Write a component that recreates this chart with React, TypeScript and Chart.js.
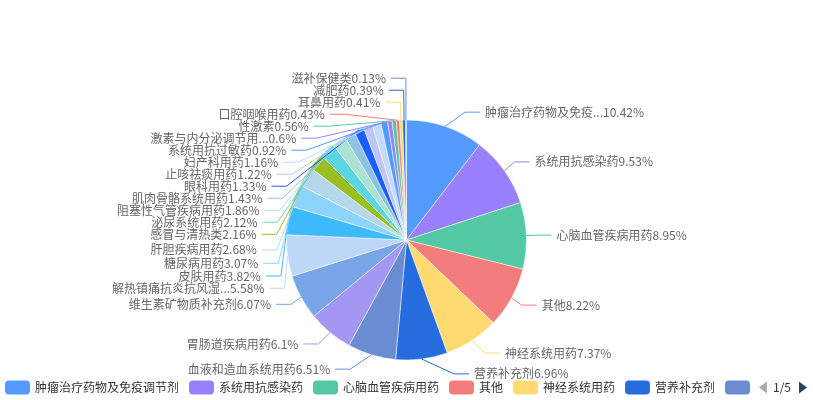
import React, { useEffect, useRef } from "react";
import { Chart, registerables } from "chart.js";

Chart.register(...registerables);

const categories: string[] = [
  "肿瘤治疗药物及免疫调节剂",
  "系统用抗感染药",
  "心脑血管疾病用药",
  "其他",
  "神经系统用药",
  "营养补充剂",
  "血液和造血系统用药",
  "胃肠道疾病用药",
  "维生素矿物质补充剂",
  "解热镇痛抗炎抗风湿药",
  "皮肤用药",
  "糖尿病用药",
  "肝胆疾病用药",
  "感冒与清热类",
  "泌尿系统用药",
  "阻塞性气管疾病用药",
  "肌肉骨骼系统用药",
  "眼科用药",
  "止咳祛痰用药",
  "妇产科用药",
  "系统用抗过敏药",
  "激素与内分泌调节用药",
  "性激素",
  "口腔咽喉用药",
  "耳鼻用药",
  "减肥药",
  "滋补保健类",
];

const shares: number[] = [
  10.42, 9.53, 8.95, 8.22, 7.37, 6.96, 6.51, 6.1, 6.07, 5.58, 3.82, 3.07, 2.68,
  2.16, 2.12, 1.86, 1.43, 1.33, 1.22, 1.16, 0.92, 0.6, 0.56, 0.43, 0.41, 0.39,
  0.13,
];

const palette: string[] = [
  "#549AFF", "#9B80FD", "#52C9A2", "#F37C7C", "#FFDA70",
  "#266CDE", "#6A8DD2", "#A397F2", "#7AA4E8", "#BDD7F7",
  "#3CBAFB", "#8DD4FB", "#B6D7EA", "#99BF23", "#5CD5E3",
  "#ACE2D5", "#8CC3E0", "#1A5EFF", "#BFC4FA", "#C4DAFA",
];

const pageLabel = "1/5";

const FONT = '12px "Noto Sans CJK SC", "Noto Sans", sans-serif';
const sliceColors = categories.map((_, i) => palette[i % palette.length]);

function labelText(i: number): string {
  const n = categories[i];
  const short = n.length > 9 ? n.slice(0, 9) + "..." : n;
  return short + shares[i] + "%";
}

type Item = {
  i: number;
  text: string;
  x: number;
  y: number;
  h: number;
  len: number;
  len2: number;
  dist: number;
  pts: number[][];
  color: string;
};

function adjustSingleSide(list: Item[], cx: number, cy: number, r: number, dir: number, viewTop: number, viewHeight: number) {
  list.sort((a, b) => a.y - b.y);
  const len = list.length;
  function shiftUp(end: number, delta: number) {
    for (let j = end; j >= 0; j--) {
      if (list[j].y - delta < viewTop) break;
      list[j].y -= delta;
      if (j > 0 && list[j].y > list[j - 1].y + list[j - 1].h) break;
    }
  }
  function shiftDown(start: number, end: number, delta: number) {
    for (let j = start; j < end; j++) {
      if (list[j].y + delta > viewTop + viewHeight) break;
      list[j].y += delta;
      if (j < end - 1 && list[j + 1].y > list[j].y + list[j].h) {
        shiftUp(j, delta / 2);
        return;
      }
    }
    shiftUp(end - 1, delta / 2);
  }
  function changeX(items: Item[], isDown: boolean) {
    let last = isDown ? Number.MAX_VALUE : 0;
    for (const it of items) {
      const dy = Math.abs(it.y - cy);
      let dx =
        dy < r + it.len
          ? Math.sqrt((r + it.len + it.len2) * (r + it.len + it.len2) - dy * dy)
          : Math.abs(it.x - cx);
      if (isDown && dx >= last) dx = last - 10;
      if (!isDown && dx <= last) dx = last + 10;
      it.x = cx + dx * dir;
      last = dx;
    }
  }
  let lastY = 0;
  for (let i = 0; i < len; i++) {
    const delta = list[i].y - lastY;
    if (delta < 0) shiftDown(i, len, -delta);
    lastY = list[i].y + list[i].h;
  }
  if (viewHeight - lastY < 0) shiftUp(len - 1, lastY - viewHeight);
  const up: Item[] = [];
  const down: Item[] = [];
  for (const it of list) (it.y >= cy ? down : up).push(it);
  changeX(up, false);
  changeX(down, true);
}

const pieLabelPlugin = {
  id: "pieLabels",
  afterDatasetsDraw(chart: any) {
    const ctx: CanvasRenderingContext2D = chart.ctx;
    const meta = chart.getDatasetMeta(0);
    const arcs = meta.data;
    if (!arcs.length) return;
    ctx.save();
    ctx.font = FONT;
    const len1 = 15, len2 = 15, dist = 5, h = 12;
    let cx = 0, cy = 0, r = 0;
    const items: Item[] = arcs.map((arc: any, i: number) => {
      const p = arc.getProps(["x", "y", "startAngle", "endAngle", "outerRadius"], true);
      cx = p.x; cy = p.y; r = p.outerRadius;
      const mid = (p.startAngle + p.endAngle) / 2;
      const nx = Math.cos(mid), ny = Math.sin(mid);
      const x1 = cx + r * nx, y1 = cy + r * ny;
      const x2 = x1 + nx * len1, y2 = y1 + ny * len1;
      const x3 = x2 + (nx < 0 ? -1 : 1) * len2, y3 = y2;
      return {
        i, text: labelText(i), x: x3 + (nx < 0 ? -dist : dist), y: y3, h,
        len: len1, len2, dist,
        pts: [[x1, y1], [x2, y2], [x3, y3]],
        color: sliceColors[i],
      };
    });
    const left = items.filter((it) => it.x < cx);
    const right = items.filter((it) => it.x >= cx);
    adjustSingleSide(right, cx, cy, r, 1, 0, chart.height);
    adjustSingleSide(left, cx, cy, r, -1, 0, chart.height);
    for (const it of items) {
      const d = it.pts[1][0] - it.pts[2][0];
      it.pts[2][0] = it.x < cx ? it.x + it.dist : it.x - it.dist;
      it.pts[1][0] = it.pts[2][0] + d;
      it.pts[1][1] = it.pts[2][1] = it.y;
      ctx.beginPath();
      ctx.strokeStyle = it.color;
      ctx.lineWidth = 1;
      ctx.moveTo(it.pts[0][0], it.pts[0][1]);
      ctx.lineTo(it.pts[1][0], it.pts[1][1]);
      ctx.lineTo(it.pts[2][0], it.pts[2][1]);
      ctx.stroke();
    }
    ctx.fillStyle = "#666";
    ctx.textBaseline = "middle";
    for (const it of items) {
      ctx.textAlign = it.x < cx ? "right" : "left";
      ctx.fillText(it.text, it.x, it.y);
    }
    ctx.restore();
  },
};

function roundRect(ctx: CanvasRenderingContext2D, x: number, y: number, w: number, hh: number, rr: number) {
  ctx.beginPath();
  ctx.moveTo(x + rr, y);
  ctx.lineTo(x + w - rr, y);
  ctx.arcTo(x + w, y, x + w, y + rr, rr);
  ctx.lineTo(x + w, y + hh - rr);
  ctx.arcTo(x + w, y + hh, x + w - rr, y + hh, rr);
  ctx.lineTo(x + rr, y + hh);
  ctx.arcTo(x, y + hh, x, y + hh - rr, rr);
  ctx.lineTo(x, y + rr);
  ctx.arcTo(x, y, x + rr, y, rr);
  ctx.closePath();
}

const legendPlugin = {
  id: "scrollLegend",
  afterDraw(chart: any) {
    const ctx: CanvasRenderingContext2D = chart.ctx;
    const W = chart.width;
    const cyL = chart.height - 12.5;
    const iconW = 25, iconH = 14, gap = 10, textGap = 5;
    const clipRight = W - 60;
    ctx.save();
    ctx.font = FONT;
    ctx.beginPath();
    ctx.rect(0, cyL - 12, clipRight, 24);
    ctx.clip();
    let x = 5;
    ctx.textBaseline = "middle";
    ctx.textAlign = "left";
    for (let i = 0; i < categories.length && x < clipRight; i++) {
      ctx.fillStyle = sliceColors[i];
      roundRect(ctx, x, cyL - iconH / 2, iconW, iconH, 4);
      ctx.fill();
      x += iconW + textGap;
      ctx.fillStyle = "#333";
      ctx.fillText(categories[i], x, cyL);
      x += ctx.measureText(categories[i]).width + gap;
    }
    ctx.restore();
    // pager
    ctx.save();
    ctx.font = FONT;
    const px = W - 54;
    ctx.fillStyle = "#aaa";
    ctx.beginPath();
    ctx.moveTo(px + 8, cyL - 6);
    ctx.lineTo(px + 8, cyL + 6);
    ctx.lineTo(px, cyL);
    ctx.closePath();
    ctx.fill();
    ctx.fillStyle = "#333";
    ctx.textAlign = "center";
    ctx.textBaseline = "middle";
    ctx.fillText(pageLabel, px + 23, cyL);
    ctx.fillStyle = "#2f4554";
    ctx.beginPath();
    ctx.moveTo(px + 40, cyL - 6);
    ctx.lineTo(px + 40, cyL + 6);
    ctx.lineTo(px + 48, cyL);
    ctx.closePath();
    ctx.fill();
    ctx.restore();
  },
};

export default function App() {
  const ref = useRef<HTMLCanvasElement | null>(null);
  useEffect(() => {
    if (!ref.current) return;
    const chart = new Chart(ref.current, {
      type: "pie",
      data: {
        labels: categories,
        datasets: [
          {
            data: shares,
            backgroundColor: sliceColors,
            borderColor: "#ffffff",
            borderWidth: 0.5,
          },
        ],
      },
      options: {
        responsive: false,
        animation: false,
        devicePixelRatio: 1,
        radius: 120,
        layout: { padding: { top: 80, bottom: 0, left: 0, right: 0 } },
        plugins: {
          legend: { display: false },
          tooltip: { enabled: false },
        },
      } as any,
      plugins: [pieLabelPlugin, legendPlugin],
    });
    return () => chart.destroy();
  }, []);
  return (
    <div style={{ position: "absolute", left: 0, top: 0, width: 813, height: 400, background: "#fff" }}>
      <canvas ref={ref} width={813} height={400} style={{ display: "block" }} />
    </div>
  );
}
